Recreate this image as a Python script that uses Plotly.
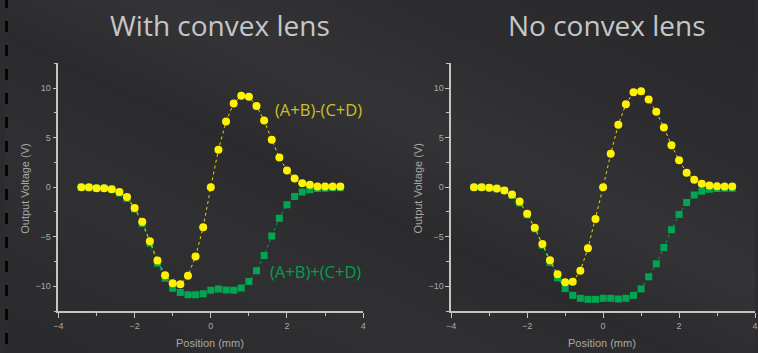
import base64
import plotly.graph_objects as go

# ---------------- data ----------------
positions = [-3.4, -3.2, -3.0, -2.8, -2.6, -2.4, -2.2, -2.0, -1.8, -1.6, -1.4, -1.2,
             -1.0, -0.8, -0.6, -0.4, -0.2, 0.0, 0.2, 0.4, 0.6, 0.8, 1.0, 1.2,
             1.4, 1.6, 1.8, 2.0, 2.2, 2.4, 2.6, 2.8, 3.0, 3.2, 3.4]

lens_diff = [0.0, 0.0, -0.1, -0.1, -0.2, -0.5, -1.0, -2.1, -3.5, -5.45, -7.4, -8.9,
             -9.7, -9.8, -8.95, -7.0, -4.04, 0.0, 3.77, 6.63, 8.45, 9.22, 9.12, 8.2,
             6.73, 4.78, 3.0, 1.68, 0.88, 0.4, 0.24, 0.07, 0.07, 0.07, 0.07]
lens_sum = [0.0, -0.05, -0.1, -0.1, -0.2, -0.6, -1.15, -2.2, -3.67, -5.65, -7.68, -9.2,
            -10.2, -10.64, -10.87, -10.87, -10.77, -10.4, -10.27, -10.37, -10.4, -10.17, -9.53, -8.45,
            -6.9, -4.92, -3.13, -1.78, -0.94, -0.5, -0.27, -0.13, -0.1, -0.07, -0.07]

nolens_diff = [0.0, 0.0, -0.05, -0.14, -0.34, -0.75, -1.46, -2.68, -4.1, -5.73, -7.39, -8.78,
               -9.6, -9.56, -8.44, -6.17, -3.22, 0.0, 3.36, 6.3, 8.37, 9.59, 9.69, 8.85,
               7.6, 6.03, 4.24, 2.71, 1.46, 0.75, 0.34, 0.17, 0.1, 0.07, 0.07]
nolens_sum = [0.0, 0.0, -0.05, -0.15, -0.35, -0.81, -1.6, -2.78, -4.2, -5.86, -7.6, -9.15,
              -10.24, -10.92, -11.22, -11.32, -11.32, -11.22, -11.22, -11.29, -11.22, -10.92, -10.27, -9.05,
              -7.73, -6.1, -4.3, -2.75, -1.56, -0.78, -0.41, -0.2, -0.14, -0.1, -0.1]

panel_titles = ["With convex lens", "No convex lens"]
diff_label = "(A+B)-(C+D)"
sum_label = "(A+B)+(C+D)"
x_title = "Position (mm)"
y_title = "Output Voltage (V)"

# ---------------- styles ----------------
W, H = 758, 353
YELLOW = "#fff200"
YELLOW_LINE = "#e8d400"
YELLOW_TEXT = "#cfc022"
GREEN = "#00a651"
GREEN_TEXT = "#00a04c"
AXIS = "#c4c4c4"
TICKTXT = "#a8a8a8"
TITLE = "#c6c6c6"

# background: diagonal dark gradient + film-strip dashes on left edge
dashes = "".join(
    f'<rect x="0" y="{y}" width="3" height="11" fill="#050505"/>' for y in range(-3, H, 24)
)
svg = f'''<svg xmlns="http://www.w3.org/2000/svg" width="{W}" height="{H}" viewBox="0 0 {W} {H}">
<defs><linearGradient id="g" x1="0" y1="1" x2="1" y2="0">
<stop offset="0" stop-color="#2a2a2c"/>
<stop offset="0.30" stop-color="#303032"/>
<stop offset="0.45" stop-color="#2b2b2d"/>
<stop offset="0.60" stop-color="#343437"/>
<stop offset="0.75" stop-color="#2d2d2f"/>
<stop offset="1" stop-color="#28282a"/>
</linearGradient></defs>
<rect width="{W}" height="{H}" fill="url(#g)"/>
{dashes}
</svg>'''
bg_src = "data:image/svg+xml;base64," + base64.b64encode(svg.encode()).decode()

fig = go.Figure()

panels = [
    (lens_diff, lens_sum, "x", "y"),
    (nolens_diff, nolens_sum, "x2", "y2"),
]
for diff, summ, xa, ya in panels:
    fig.add_trace(go.Scatter(
        x=positions, y=summ, xaxis=xa, yaxis=ya, mode="lines+markers",
        line=dict(color=GREEN, width=1, dash="dot"),
        marker=dict(symbol="square", size=7, color=GREEN),
        showlegend=False, hoverinfo="x+y"))
    fig.add_trace(go.Scatter(
        x=positions, y=diff, xaxis=xa, yaxis=ya, mode="lines+markers",
        line=dict(color=YELLOW_LINE, width=1, dash="dot"),
        marker=dict(symbol="circle", size=8, color=YELLOW),
        showlegend=False, hoverinfo="x+y"))

xdom = [[54 / W, 362 / W], [451 / W, 1.0]]
ydom = [1 - 311 / H, 1 - 63.3 / H]

common_x = dict(range=[-4, 4], tickvals=[-4, -2, 0, 2, 4], showgrid=False, zeroline=False,
                showline=True, linecolor=AXIS, linewidth=1.5, ticks="outside", ticklen=5,
                tickwidth=1.2, tickcolor=AXIS,
                tickfont=dict(family="Liberation Sans, Arial", size=9, color=TICKTXT),
                minor=dict(tickvals=[-3, -1, 1, 3], ticks="outside", ticklen=3, tickcolor=AXIS,
                           tickwidth=1.2, showgrid=False),
                fixedrange=True)
common_y = dict(range=[-12.5, 12.5], tickvals=[-10, -5, 0, 5, 10], showgrid=False, zeroline=False,
                showline=True, linecolor=AXIS, linewidth=1.5, ticks="outside", ticklen=4,
                tickwidth=1.2, tickcolor=AXIS,
                tickfont=dict(family="Liberation Sans, Arial", size=9, color=TICKTXT),
                minor=dict(tickvals=[-12.5, -7.5, -2.5, 2.5, 7.5, 12.5], ticks="outside", ticklen=3,
                           tickcolor=AXIS, tickwidth=1.2, showgrid=False),
                fixedrange=True)

fig.update_layout(
    width=W, height=H,
    margin=dict(l=0, r=0, t=0, b=0),
    paper_bgcolor="#2c2c2e", plot_bgcolor="rgba(0,0,0,0)",
    xaxis=dict(domain=xdom[0], anchor="y", **common_x),
    yaxis=dict(domain=ydom, anchor="x", **common_y),
    xaxis2=dict(domain=xdom[1], anchor="y2", **common_x),
    yaxis2=dict(domain=ydom, anchor="x2", **common_y),
    images=[dict(source=bg_src, xref="paper", yref="paper", x=0, y=1, sizex=1, sizey=1,
                 sizing="stretch", layer="below", xanchor="left", yanchor="top")],
)

ann = []
# panel titles
for t, cx in zip(panel_titles, [217, 608]):
    ann.append(dict(text=t, x=cx / W, y=1 - 25 / H, xref="paper", yref="paper",
                    showarrow=False, xanchor="center", yanchor="middle",
                    font=dict(family="Open Sans, Noto Sans", size=28, color=TITLE)))
# axis titles
for cx in [207, 603]:
    ann.append(dict(text=x_title, x=cx / W, y=1 - 343 / H, xref="paper", yref="paper",
                    showarrow=False, xanchor="center", yanchor="middle",
                    font=dict(family="Liberation Sans, Arial", size=11, color=TICKTXT)))
for cx in [20, 417]:
    ann.append(dict(text=y_title, x=cx / W, y=1 - 188 / H, xref="paper", yref="paper",
                    showarrow=False, xanchor="center", yanchor="middle", textangle=-90,
                    font=dict(family="Liberation Sans, Arial", size=11, color=TICKTXT)))
# series labels (left panel)
ann.append(dict(text=diff_label, x=317 / W, y=1 - 110 / H, xref="paper", yref="paper",
                showarrow=False, xanchor="center", yanchor="middle",
                font=dict(family="Open Sans, Noto Sans", size=16.5, color=YELLOW_TEXT)))
ann.append(dict(text=sum_label, x=314 / W, y=1 - 271 / H, xref="paper", yref="paper",
                showarrow=False, xanchor="center", yanchor="middle",
                font=dict(family="Open Sans, Noto Sans", size=16.5, color=GREEN_TEXT)))
fig.update_layout(annotations=ann)

fig.write_html(
    "out.html",
    config={"displayModeBar": False},
    post_script="document.body.style.margin='0';document.body.style.overflow='hidden';"
                "document.body.style.background='#2c2c2e';",
)
